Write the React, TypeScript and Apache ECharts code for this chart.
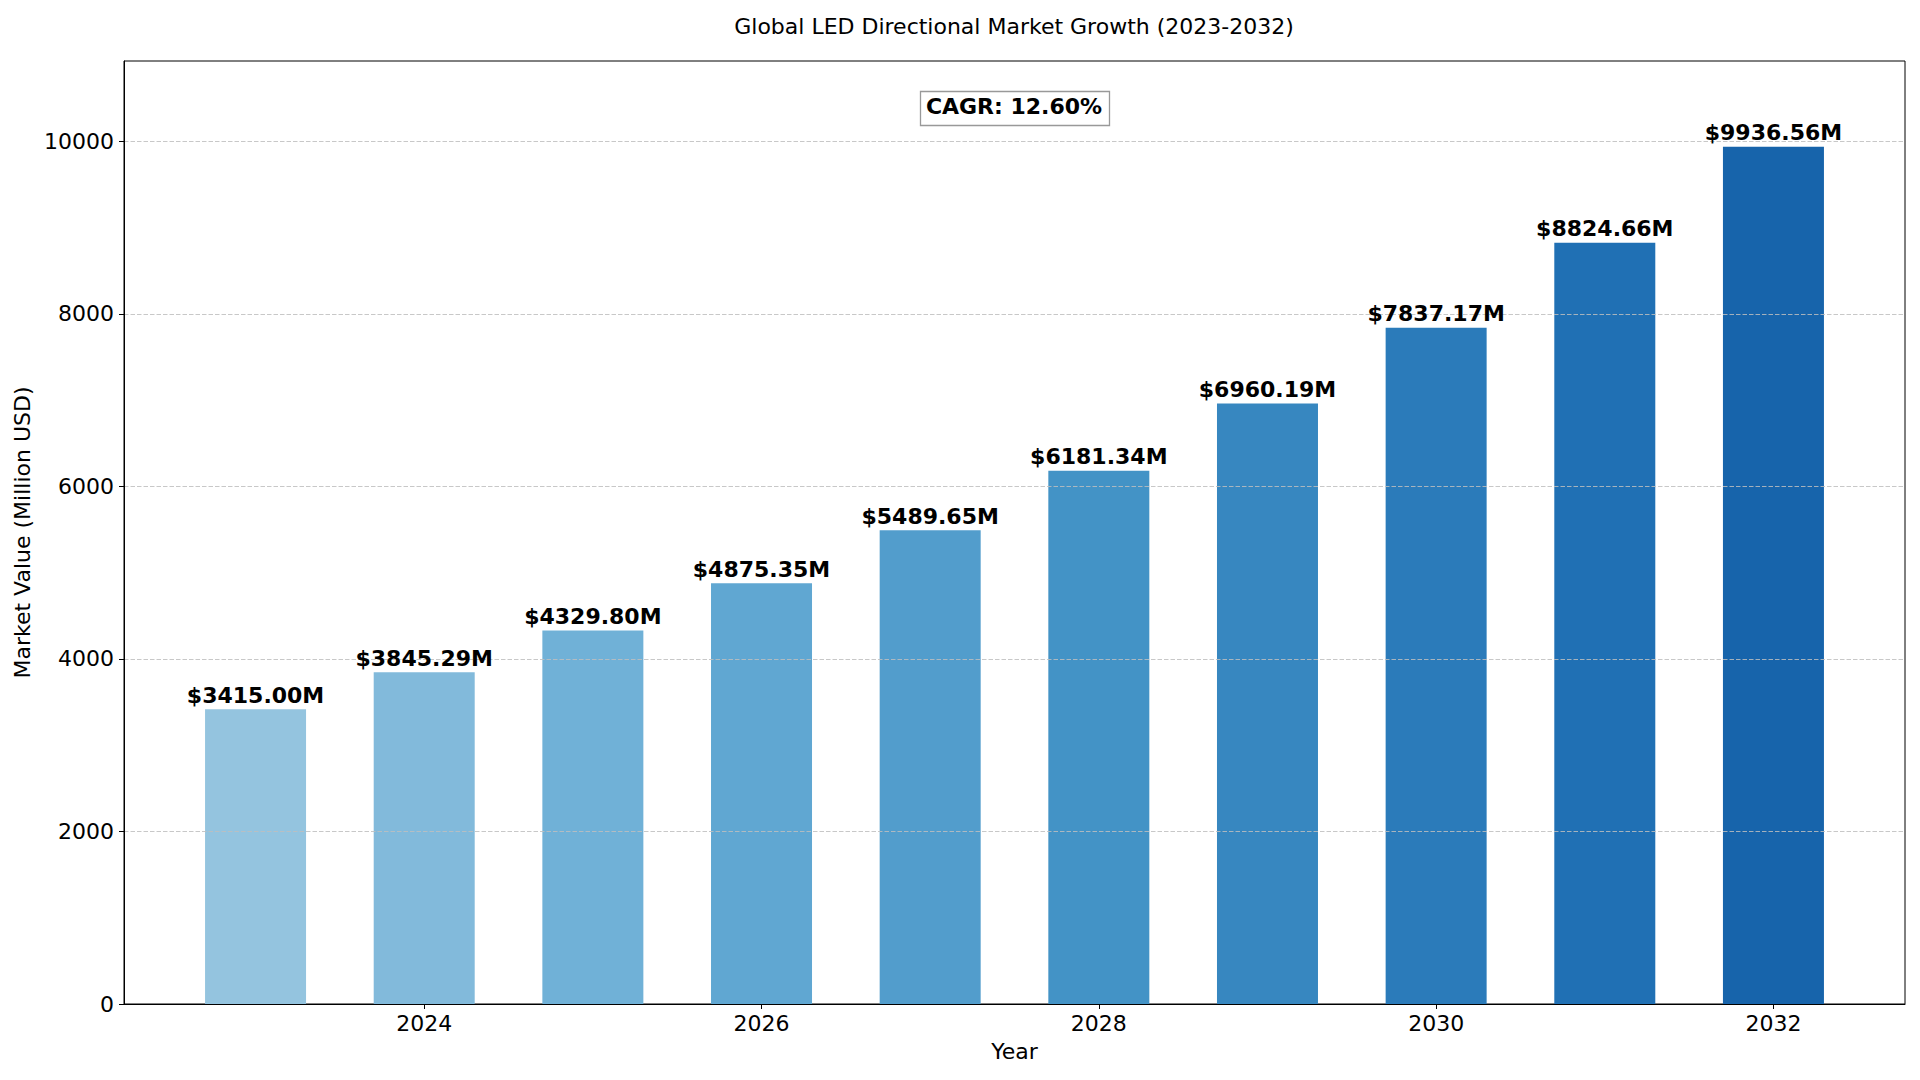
import React, { useEffect, useRef } from "react";
import * as echarts from "echarts";

// values
const years = [2023, 2024, 2025, 2026, 2027, 2028, 2029, 2030, 2031, 2032];
const marketValues = [3415.0, 3845.29, 4329.8, 4875.35, 5489.65, 6181.34, 6960.19, 7837.17, 8824.66, 9936.56];
const barColors = [
  "#94c4df", "#82badb", "#70b1d7", "#60a7d2", "#529dcc",
  "#4393c6", "#3787c0", "#2b7bba", "#2070b4", "#1764ab",
];
const yTicks = [0, 2000, 4000, 6000, 8000, 10000];
const xTicks = [2024, 2026, 2028, 2030, 2032];
const chartTitle = "Global LED Directional Market Growth (2023-2032)";
const cagrText = "CAGR: 12.60%";

const FONT = "DejaVu Sans";

export default function App() {
  const chartRef = useRef<HTMLDivElement | null>(null);

  useEffect(() => {
    if (!chartRef.current) return;
    const chart = echarts.init(chartRef.current, null, { renderer: "svg" });

    const points = years.map((y, i) => [y, marketValues[i]]);

    const option: any = {
      animation: false,
      backgroundColor: "#ffffff",
      textStyle: { fontFamily: FONT },
      grid: {
        left: 124,
        top: 61,
        width: 1781,
        height: 943,
        containLabel: false,
        outerBoundsMode: "none",
        show: true,
        borderColor: "#000",
        borderWidth: 1,
        backgroundColor: "transparent",
      },
      xAxis: {
        type: "value",
        min: 2022.22,
        max: 2032.78,
        z: 3,
        name: "Year",
        nameLocation: "middle",
        nameGap: 36,
        nameTextStyle: { fontSize: 22, color: "#000", fontFamily: FONT },
        axisLine: { show: true, lineStyle: { color: "#000", width: 1 } },
        axisTick: { show: true, length: 5, lineStyle: { color: "#000" }, customValues: xTicks },
        axisLabel: {
          customValues: xTicks,
          fontSize: 22,
          color: "#000",
          margin: 8,
          fontFamily: FONT,
          formatter: (v: number) => String(v),
        },
        splitLine: { show: false },
      },
      yAxis: {
        type: "value",
        min: 0,
        max: 10930,
        interval: 2000,
        z: 3,
        name: "Market Value (Million USD)",
        nameLocation: "middle",
        nameGap: 78,
        nameTextStyle: { fontSize: 22, color: "#000", fontFamily: FONT },
        axisLine: { show: true, lineStyle: { color: "#000", width: 1 } },
        axisTick: { show: true, length: 5, lineStyle: { color: "#000" }, customValues: yTicks },
        axisLabel: {
          customValues: yTicks,
          fontSize: 22,
          color: "#000",
          margin: 10,
          fontFamily: FONT,
          formatter: (v: number) => String(v),
        },
        splitLine: {
          show: true,
          lineStyle: { color: "rgba(190,190,190,0.85)", width: 1, type: [4.5, 2] },
        },
      },
      series: [
        {
          type: "bar",
          data: points.map((p, i) => ({ value: p, itemStyle: { color: barColors[i] } })),
          barWidth: 101,
          z: 2,
          silent: true,
        },
        {
          type: "scatter",
          data: points,
          symbolSize: 0,
          z: 5,
          silent: true,
          itemStyle: { opacity: 1 },
          label: {
            show: true,
            position: "top",
            distance: 3,
            fontSize: 22,
            fontWeight: "bold",
            color: "#000",
            opacity: 1,
            fontFamily: FONT,
            formatter: (p: any) => `$${p.value[1].toFixed(2)}M`,
          },
        },
      ],
      graphic: [
        {
          type: "text",
          x: 1014,
          y: 26,
          style: {
            text: chartTitle,
            fontSize: 22,
            fontFamily: FONT,
            fill: "#000",
            textAlign: "center",
            textVerticalAlign: "middle",
          },
        },
        {
          type: "rect",
          shape: { x: 920.5, y: 91.5, width: 189, height: 34 },
          style: { fill: "#ffffff", stroke: "#999999", lineWidth: 1.3 },
          z: 10,
        },
        {
          type: "text",
          x: 1014,
          y: 106,
          z: 11,
          style: {
            text: cagrText,
            fontSize: 22,
            fontWeight: "bold",
            fontFamily: FONT,
            fill: "#000",
            textAlign: "center",
            textVerticalAlign: "middle",
          },
        },
      ],
    };

    chart.setOption(option);
    return () => chart.dispose();
  }, []);

  return (
    <div
      ref={chartRef}
      style={{ position: "fixed", left: 0, top: 0, width: 1920, height: 1080, background: "#fff" }}
    />
  );
}
